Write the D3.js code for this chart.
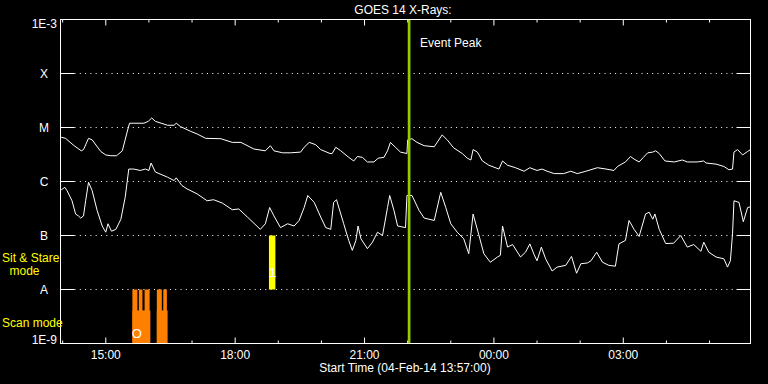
<!DOCTYPE html>
<html>
<head>
<meta charset="utf-8">
<script src="https://cdn.jsdelivr.net/npm/d3@7"></script>
<style>
  body { margin: 0; background: #000; }
  text { font-family: "Liberation Sans", Arial, sans-serif; font-size: 12px; fill: #fff; }
</style>
</head>
<body>
<script>
// minutes after 04-Feb-14 13:57 UTC, flux in W/m^2
var longChannel = [
  [1,6.6e-6],[7,6.3e-6],[19,4.6e-6],[29,3.7e-6],[32,3.9e-6],[39,6.3e-6],[44,5.9e-6],[56,3.6e-6],
  [63,3.1e-6],[70,3.0e-6],[78,3.0e-6],[86,3.7e-6],[92,7.6e-6],[96,1.2e-5],[102,1.2e-5],[116,1.2e-5],
  [122,1.3e-5],[127,1.5e-5],[132,1.3e-5],[149,1.1e-5],[158,1.1e-5],[161,1.2e-5],[167,1.04e-5],
  [181,8.5e-6],[190,7.6e-6],[202,6.3e-6],[223,6.2e-6],[239,5.3e-6],[251,5.3e-6],[269,4.0e-6],
  [285,3.7e-6],[292,4.6e-6],[297,3.7e-6],[309,3.4e-6],[320,3.4e-6],[334,3.5e-6],[339,4.3e-6],
  [346,5.3e-6],[355,4.8e-6],[362,3.9e-6],[375,3.3e-6],[378,3.3e-6],[383,4.3e-6],[390,3.7e-6],
  [401,2.8e-6],[408,2.4e-6],[413,2.9e-6],[420,2.8e-6],[427,2.3e-6],[436,2.3e-6],[442,2.7e-6],
  [450,2.8e-6],[455,3.7e-6],[459,5.3e-6],[466,4.3e-6],[473,3.5e-6],[482,3.3e-6],[483,5.9e-6],
  [489,6.2e-6],[496,5.3e-6],[506,4.6e-6],[520,4.4e-6],[531,7.3e-6],[538,5.9e-6],[547,4.2e-6],
  [559,3.3e-6],[566,2.7e-6],[571,2.5e-6],[574,3.9e-6],[580,3.5e-6],[587,2.4e-6],[596,2.0e-6],
  [610,1.7e-6],[615,2.4e-6],[622,2.0e-6],[633,1.8e-6],[645,1.55e-6],[653,1.8e-6],[663,1.6e-6],
  [670,1.7e-6],[677,1.55e-6],[687,1.4e-6],[700,1.4e-6],[710,1.55e-6],[719,1.4e-6],[731,1.55e-6],
  [747,1.8e-6],[759,1.7e-6],[770,1.6e-6],[775,1.9e-6],[786,2.3e-6],[793,2.9e-6],[798,2.6e-6],
  [805,2.3e-6],[811,2.8e-6],[817,3.4e-6],[824,3.5e-6],[828,3.7e-6],[833,3.3e-6],[841,2.4e-6],
  [854,2.3e-6],[865,2.5e-6],[872,2.3e-6],[886,2.3e-6],[895,2.4e-6],[898,2.2e-6],[912,2.1e-6],
  [923,1.9e-6],[930,1.65e-6],[935,1.7e-6],[937,3.5e-6],[942,3.9e-6],[949,3.1e-6],[956,3.6e-6],
  [960,3.9e-6]
];

var shortChannel = [
  [1,7.0e-7],[6,7.8e-7],[9,6.8e-7],[16,4.4e-7],[21,2.5e-7],[25,2.3e-7],[28,2.1e-7],[32,2.3e-7],
  [35,4.4e-7],[39,9.7e-7],[44,6.8e-7],[51,2.9e-7],[58,1.5e-7],[63,1.15e-7],[66,1.65e-7],[71,1.2e-7],
  [77,1.3e-7],[84,2.0e-7],[90,5.1e-7],[95,1.7e-6],[102,1.7e-6],[111,1.6e-6],[118,1.7e-6],[123,1.6e-6],
  [126,2.2e-6],[132,1.5e-6],[149,1.2e-6],[158,1.04e-6],[161,1.17e-6],[169,8.4e-7],[176,7.3e-7],
  [190,5.9e-7],[204,4.4e-7],[213,4.6e-7],[225,4.0e-7],[239,3.0e-7],[248,3.1e-7],[260,2.2e-7],
  [278,1.3e-7],[285,1.65e-7],[291,3.3e-7],[297,2.3e-7],[306,1.4e-7],[316,1.65e-7],[325,1.5e-7],
  [332,1.9e-7],[339,3.3e-7],[344,5.5e-7],[353,4.1e-7],[362,2.2e-7],[369,1.4e-7],[376,1.3e-7],
  [380,4.1e-7],[384,4.6e-7],[394,1.65e-7],[401,8.1e-8],[406,5.3e-8],[411,8.1e-8],[414,1.5e-7],
  [418,8.7e-8],[427,5.7e-8],[434,7.5e-8],[441,1.15e-7],[448,1.0e-7],[455,3.3e-7],[458,5.5e-7],
  [464,2.9e-7],[469,1.5e-7],[480,1.4e-7],[482,5.5e-7],[489,5.5e-7],[499,2.9e-7],[506,2.1e-7],
  [520,1.9e-7],[529,6.3e-7],[536,3.3e-7],[543,1.65e-7],[552,1.15e-7],[561,8.7e-8],[568,4.6e-8],
  [574,2.5e-7],[582,1.03e-7],[589,4.6e-8],[598,3.2e-8],[608,4.0e-8],[612,4.3e-8],[615,1.5e-7],
  [622,6.1e-8],[629,6.8e-8],[640,4.0e-8],[647,4.9e-8],[653,7.0e-8],[659,4.4e-8],[663,3.4e-8],
  [669,6.1e-8],[675,3.7e-8],[684,2.2e-8],[691,2.6e-8],[703,2.8e-8],[711,4.1e-8],[718,2.0e-8],
  [724,3.0e-8],[733,3.1e-8],[738,3.4e-8],[746,4.9e-8],[754,3.2e-8],[763,2.8e-8],[772,2.7e-8],
  [777,7.0e-8],[786,8.1e-8],[791,1.9e-7],[798,1.3e-7],[805,9.6e-8],[814,2.5e-7],[819,2.7e-7],
  [824,2.0e-7],[827,2.5e-7],[833,1.3e-7],[842,7.1e-8],[853,7.2e-8],[863,1.0e-7],[872,6.1e-8],
  [881,6.8e-8],[891,5.1e-8],[895,7.5e-8],[902,4.9e-8],[912,4.0e-8],[923,3.7e-8],[928,2.6e-8],
  [932,3.4e-8],[935,1.07e-7],[937,4.4e-7],[944,4.1e-7],[950,1.8e-7],[956,3.3e-7],[960,3.4e-7]
];

// scan mode blocks: [start min, end min, top flux]
var scanBlocks = [
  [100,125,4.1e-9],[134,149,4.1e-9],
  [100,107,1e-8],[109,114,1e-8],[117,124,1e-8],[134,141,1e-8],[143,148,1e-8]
];
// sit & stare block: [start min, end min, bottom flux, top flux]
var stareBlocks = [[290,299,1e-8,1e-7]];

var eventPeak = 485;
var decadeFlux = [1e-9,1e-8,1e-7,1e-6,1e-5,1e-4,1e-3];
var decadeLabels = ["1E-9","A","B","C","M","X","1E-3"];
var hourLabels = {15:"15:00",18:"18:00",21:"21:00",0:"00:00",3:"03:00"};

var start = Date.UTC(2014,1,4,13,57);
function toDate(m) { return new Date(start + m*60000); }

var svg = d3.select('body').append('svg')
  .attr('width', 768)
  .attr('height', 384)
  .style('background', '#000');

var x = d3.scaleUtc().domain([toDate(0), toDate(960)]).range([60.5, 750.5]);
var y = d3.scaleLog().domain([1e-9, 1e-3]).range([343.5, 19.5]);

// dotted grid + side ticks
var inner = decadeFlux.slice(1, -1);
svg.selectAll('.grid').data(inner).enter().append('line')
  .attr('x1', 74.5).attr('x2', 736.5)
  .attr('y1', function(d) {return y(d)}).attr('y2', function(d) {return y(d)})
  .attr('stroke', '#fff').attr('stroke-dasharray', '1,4.3');
svg.selectAll('.ltick').data(inner).enter().append('line')
  .attr('x1', 60.5).attr('x2', 74.5)
  .attr('y1', function(d) {return y(d)}).attr('y2', function(d) {return y(d)})
  .attr('stroke', '#fff');
svg.selectAll('.rtick').data(inner).enter().append('line')
  .attr('x1', 736.5).attr('x2', 750.5)
  .attr('y1', function(d) {return y(d)}).attr('y2', function(d) {return y(d)})
  .attr('stroke', '#fff');

// hour ticks top and bottom
var hours = d3.utcHour.range(toDate(1), toDate(960));
hours.forEach(function(h) {
  var len = h.getUTCHours() % 3 === 0 ? 6 : 3;
  svg.append('line').attr('x1', x(h)).attr('x2', x(h))
    .attr('y1', 343.5).attr('y2', 343.5 - len).attr('stroke', '#fff');
  svg.append('line').attr('x1', x(h)).attr('x2', x(h))
    .attr('y1', 19.5).attr('y2', 19.5 + len).attr('stroke', '#fff');
  if (hourLabels[h.getUTCHours()] !== undefined) {
    svg.append('text').attr('x', x(h)).attr('y', 359)
      .attr('text-anchor', 'middle').text(hourLabels[h.getUTCHours()]);
  }
});

// scan / stare bars
svg.selectAll('.scan').data(scanBlocks).enter().append('rect')
  .attr('x', function(d) {return x(toDate(d[0]))})
  .attr('width', function(d) {return x(toDate(d[1])) - x(toDate(d[0]))})
  .attr('y', function(d) {return y(d[2])})
  .attr('height', function(d) {return y(1e-9) - y(d[2])})
  .attr('fill', '#ff8000');
svg.selectAll('.stare').data(stareBlocks).enter().append('rect')
  .attr('x', function(d) {return x(toDate(d[0]))})
  .attr('width', function(d) {return x(toDate(d[1])) - x(toDate(d[0]))})
  .attr('y', function(d) {return y(d[3])})
  .attr('height', function(d) {return y(d[2]) - y(d[3])})
  .attr('fill', '#ffff00');
svg.append('text').attr('x', x(toDate(106))).attr('y', 338)
  .attr('text-anchor', 'middle').style('font-size', '13px').text('O');
svg.append('text').attr('x', x(toDate(295))).attr('y', 277)
  .attr('text-anchor', 'middle').style('font-size', '13px').text('1');

// flux curves
var line = d3.line()
  .x(function(d) {return x(toDate(d[0]))})
  .y(function(d) {return y(d[1])});
[longChannel, shortChannel].forEach(function(s) {
  svg.append('path').datum(s).attr('d', line)
    .attr('fill', 'none').attr('stroke', '#fff').attr('stroke-width', 1);
});

// event peak
svg.append('line')
  .attr('x1', x(toDate(eventPeak))).attr('x2', x(toDate(eventPeak)))
  .attr('y1', 19.5).attr('y2', 343.5)
  .attr('stroke', '#99cc00').attr('stroke-width', 2.7);
svg.append('text').attr('x', x(toDate(eventPeak)) + 11).attr('y', 47).text('Event Peak');

// frame
svg.append('rect').attr('x', 60.5).attr('y', 19.5).attr('width', 690).attr('height', 324)
  .attr('fill', 'none').attr('stroke', '#fff');

// y labels
svg.selectAll('.ylab').data(decadeFlux).enter().append('text')
  .attr('x', function(d, i) {return (i === 0 || i === 6) ? 57 : 44})
  .attr('y', function(d, i) {return i === 0 ? y(d) : (i === 6 ? y(d) + 8 : y(d) + 4)})
  .attr('text-anchor', function(d, i) {return (i === 0 || i === 6) ? 'end' : 'middle'})
  .text(function(d, i) {return decadeLabels[i]});

svg.append('text').attr('x', 403).attr('y', 14).attr('text-anchor', 'middle').text('GOES 14 X-Rays:');
svg.append('text').attr('x', 405).attr('y', 372).attr('text-anchor', 'middle').text('Start Time (04-Feb-14 13:57:00)');

svg.append('text').attr('x', 2).attr('y', 262).style('fill', '#ffff00').text('Sit & Stare');
svg.append('text').attr('x', 24.5).attr('y', 275).attr('text-anchor', 'middle').style('fill', '#ffff00').text('mode');
svg.append('text').attr('x', 2).attr('y', 327).style('fill', '#ffff00').text('Scan mode');
</script>
</body>
</html>
